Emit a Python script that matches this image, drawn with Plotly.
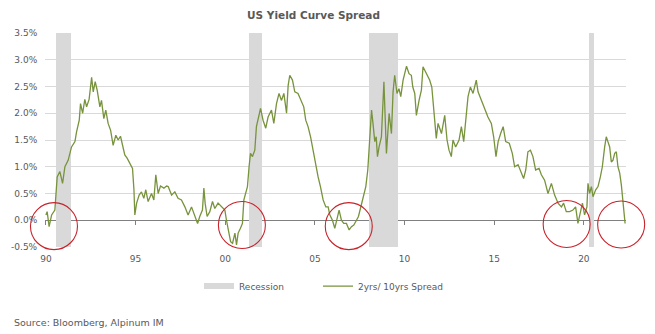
import plotly.graph_objects as go

# ---- data (decimal years as placed on the chart's axis) ----
years = [
    1990.00, 1990.07, 1990.18, 1990.32, 1990.50, 1990.56, 1990.63, 1990.78, 1990.93, 1991.06,
    1991.24, 1991.43, 1991.62, 1991.71, 1991.86, 1991.93, 1992.05, 1992.17, 1992.27, 1992.41,
    1992.55, 1992.64, 1992.75, 1992.86, 1993.01, 1993.10, 1993.23, 1993.34, 1993.47, 1993.61,
    1993.75, 1993.90, 1994.03, 1994.16, 1994.28, 1994.40, 1994.53, 1994.68, 1994.83, 1994.91,
    1994.96, 1995.06, 1995.20, 1995.33, 1995.46, 1995.57, 1995.70, 1995.89, 1996.02, 1996.13,
    1996.26, 1996.39, 1996.58, 1996.73, 1996.82, 1997.01, 1997.19, 1997.37, 1997.56, 1997.75,
    1997.93, 1998.12, 1998.31, 1998.46, 1998.58, 1998.73, 1998.81, 1998.88, 1998.99, 1999.14,
    1999.29, 1999.42, 1999.60, 1999.79, 1999.98, 2000.07, 2000.16, 2000.30, 2000.41, 2000.54,
    2000.63, 2000.72, 2000.85, 2000.96, 2001.04, 2001.15, 2001.24, 2001.33, 2001.41, 2001.52,
    2001.65, 2001.74, 2001.83, 2001.97, 2002.11, 2002.26, 2002.39, 2002.58, 2002.71, 2002.86,
    2003.00, 2003.14, 2003.27, 2003.42, 2003.51, 2003.60, 2003.75, 2003.88, 2004.06, 2004.25,
    2004.38, 2004.49, 2004.62, 2004.76, 2004.90, 2005.05, 2005.18, 2005.31, 2005.46, 2005.61,
    2005.74, 2005.83, 2005.98, 2006.11, 2006.24, 2006.35, 2006.48, 2006.61, 2006.76, 2006.91,
    2007.04, 2007.17, 2007.32, 2007.43, 2007.54, 2007.69, 2007.84, 2007.95, 2008.02, 2008.10,
    2008.16, 2008.24, 2008.34, 2008.42, 2008.49, 2008.58, 2008.71, 2008.85, 2008.95, 2008.99,
    2009.14, 2009.27, 2009.36, 2009.45, 2009.58, 2009.69, 2009.79, 2009.92, 2010.11, 2010.25,
    2010.38, 2010.46, 2010.57, 2010.66, 2010.81, 2010.94, 2011.03, 2011.22, 2011.40, 2011.52,
    2011.63, 2011.77, 2011.87, 2012.06, 2012.24, 2012.37, 2012.48, 2012.61, 2012.70, 2012.85,
    2013.04, 2013.17, 2013.30, 2013.45, 2013.54, 2013.67, 2013.82, 2014.00, 2014.10, 2014.29,
    2014.47, 2014.65, 2014.84, 2014.97, 2015.10, 2015.22, 2015.36, 2015.50, 2015.64, 2015.84,
    2016.01, 2016.14, 2016.33, 2016.52, 2016.64, 2016.76, 2016.88, 2017.02, 2017.16, 2017.31,
    2017.50, 2017.63, 2017.81, 2018.00, 2018.19, 2018.37, 2018.56, 2018.75, 2018.87, 2019.02,
    2019.21, 2019.39, 2019.54, 2019.67, 2019.80, 2019.92, 2020.04, 2020.17, 2020.23, 2020.32,
    2020.42, 2020.51, 2020.66, 2020.79, 2020.92, 2021.03, 2021.16, 2021.25, 2021.34, 2021.44,
    2021.53, 2021.62, 2021.72, 2021.81, 2021.90, 2022.00, 2022.09, 2022.18, 2022.23, 2022.30,
]
spread = [
    0.10, 0.16, -0.12, 0.10, 0.19, 0.50, 0.81, 0.91, 0.69, 1.00,
    1.12, 1.37, 1.47, 1.65, 1.87, 2.18, 2.00, 2.26, 2.12, 2.26,
    2.67, 2.40, 2.59, 2.43, 2.12, 2.24, 1.90, 2.06, 1.81, 1.68,
    1.40, 1.59, 1.50, 1.57, 1.37, 1.22, 1.16, 1.06, 0.97, 0.57,
    0.10, 0.32, 0.47, 0.53, 0.41, 0.57, 0.35, 0.50, 0.38, 0.85,
    0.50, 0.64, 0.60, 0.64, 0.63, 0.47, 0.53, 0.41, 0.38, 0.25,
    0.10, 0.25, 0.07, -0.06, 0.07, 0.19, 0.60, 0.32, 0.07, 0.16,
    0.35, 0.22, 0.32, 0.25, 0.19, 0.00, -0.18, -0.40, -0.43, -0.24,
    -0.46, -0.24, -0.15, -0.06, 0.38, 0.50, 0.63, 1.00, 1.25, 1.19,
    1.31, 1.75, 1.87, 2.09, 1.87, 1.72, 1.93, 2.06, 1.81, 2.18,
    2.37, 2.24, 2.37, 2.00, 2.52, 2.71, 2.62, 2.40, 2.37, 2.24,
    2.12, 1.87, 1.75, 1.56, 1.31, 1.00, 0.81, 0.63, 0.38, 0.25,
    0.25, 0.10, 0.00, -0.15, 0.04, 0.19, 0.00, -0.06, -0.06, -0.18,
    -0.12, -0.09, 0.00, 0.07, 0.22, 0.44, 0.63, 0.94, 1.31, 1.75,
    2.06, 1.81, 1.47, 1.56, 1.19, 1.37, 1.56, 2.59, 1.75, 1.25,
    2.00, 1.62, 2.40, 2.71, 2.37, 2.46, 2.31, 2.62, 2.88, 2.74,
    2.71, 2.49, 2.37, 1.96, 2.24, 2.43, 2.87, 2.74, 2.62, 2.49,
    2.06, 1.53, 1.81, 1.62, 1.96, 1.50, 1.31, 1.19, 1.50, 1.37,
    1.50, 1.75, 1.47, 1.93, 2.31, 2.49, 2.37, 2.62, 2.40, 2.24,
    2.09, 1.93, 1.81, 1.56, 1.19, 1.47, 1.62, 1.75, 1.47, 1.44,
    1.25, 1.00, 1.04, 0.88, 0.78, 0.94, 1.28, 1.31, 1.19, 0.94,
    0.97, 0.85, 0.75, 0.50, 0.69, 0.47, 0.32, 0.25, 0.32, 0.16,
    0.16, 0.19, 0.25, -0.06, 0.16, 0.32, 0.10, 0.25, 0.69, 0.50,
    0.63, 0.44, 0.57, 0.63, 0.81, 1.00, 1.37, 1.56, 1.47, 1.37,
    1.09, 1.12, 1.25, 1.28, 1.00, 0.88, 0.66, 0.38, 0.13, -0.06,
]

recession_start = [1990.56, 2001.33, 2008.02, 2020.27]
recession_end = [1991.39, 2002.04, 2009.62, 2020.58]

circle_x = [1990.45, 2000.93, 2006.89, 2019.04, 2022.08]
circle_y = [-0.11, -0.09, -0.11, -0.07, -0.08]

x_tick_vals = [1990, 1995, 2000, 2005, 2010, 2015, 2020]
x_tick_text = ["90", "95", "00", "05", "10", "15", "20"]
y_tick_vals = [-0.5, 0.0, 0.5, 1.0, 1.5, 2.0, 2.5, 3.0, 3.5]
y_tick_text = ["-0.5%", "0.0%", "0.5%", "1.0%", "1.5%", "2.0%", "2.5%", "3.0%", "3.5%"]

Y_MIN, Y_MAX = -0.5, 3.5
X_RANGE = [1989.95, 2022.35]

FONT = "DejaVu Sans"
TXT = "#595959"
GREEN = "#77933C"
GREY_BAND = "#D9D9D9"

fig = go.Figure()

# recession bands as bars spanning the full y range
fig.add_trace(go.Bar(
    x=[(s + e) / 2 for s, e in zip(recession_start, recession_end)],
    width=[e - s for s, e in zip(recession_start, recession_end)],
    y=[Y_MAX - Y_MIN] * len(recession_start),
    base=[Y_MIN] * len(recession_start),
    marker=dict(color=GREY_BAND, line=dict(width=0)),
    showlegend=False, hoverinfo="skip",
))
# legend proxy for recession
fig.add_trace(go.Scatter(
    x=[None], y=[None], mode="lines", name="Recession",
    line=dict(color=GREY_BAND, width=6), legend="legend",
))
fig.add_trace(go.Scatter(
    x=years, y=spread, mode="lines", name="2yrs/ 10yrs Spread",
    line=dict(color=GREEN, width=1.3), legend="legend2",
))
# zero-line axis carrier (invisible data on x2)
fig.add_trace(go.Scatter(
    x=[None], y=[None], xaxis="x2", showlegend=False, hoverinfo="skip",
))
fig.add_trace(go.Scatter(
    x=circle_x, y=circle_y, mode="markers", showlegend=False, hoverinfo="skip",
    marker=dict(symbol="circle-open", size=47, color="#C8232B", line=dict(width=1.1)),
    cliponaxis=False,
))

legend_common = dict(orientation="h", xanchor="left", y=-0.115, yanchor="top",
                     font=dict(size=9, color=TXT), bgcolor="rgba(0,0,0,0)", itemwidth=30)

fig.update_layout(
    width=655, height=334,
    margin=dict(l=45, r=29, t=33, b=87),
    paper_bgcolor="white", plot_bgcolor="white",
    font=dict(family=FONT, size=9, color=TXT),
    bargap=0,
    title=dict(text="<b>US Yield Curve Spread</b>", x=313.5 / 655, xanchor="center",
               y=1 - 15 / 334, yanchor="middle", xref="container", yref="container",
               font=dict(family=FONT, size=10.5, color=TXT)),
    xaxis=dict(range=X_RANGE, tickvals=x_tick_vals, ticktext=x_tick_text,
               showgrid=False, zeroline=False, showline=False,
               ticks="outside", ticklen=3, tickcolor="rgba(0,0,0,0)",
               tickfont=dict(size=9, color=TXT)),
    xaxis2=dict(range=X_RANGE, overlaying="x", anchor="free", position=(0 - Y_MIN) / (Y_MAX - Y_MIN),
                side="bottom", tickvals=x_tick_vals, showticklabels=False,
                showline=True, linecolor="#808080", linewidth=1,
                ticks="outside", ticklen=4, tickcolor="#808080", tickwidth=1,
                showgrid=False, zeroline=False, layer="below traces"),
    yaxis=dict(range=[Y_MIN, Y_MAX], tickvals=y_tick_vals, ticktext=y_tick_text,
               showgrid=True, gridcolor="#D9D9D9", gridwidth=1, zeroline=False,
               showline=False, ticks="outside", ticklen=5, tickcolor="rgba(0,0,0,0)",
               tickfont=dict(size=9, color=TXT)),
    legend=dict(x=(199 - 45) / 581, **legend_common),
    legend2=dict(x=(318 - 45) / 581, **legend_common),
    showlegend=True,
)

fig.add_annotation(text="Source: Bloomberg, Alpinum IM", xref="paper", yref="paper",
                   x=-33 / 581, y=-75 / 214, xanchor="left", yanchor="middle",
                   showarrow=False, font=dict(size=9.5, color=TXT))

fig.write_html("out.html")
